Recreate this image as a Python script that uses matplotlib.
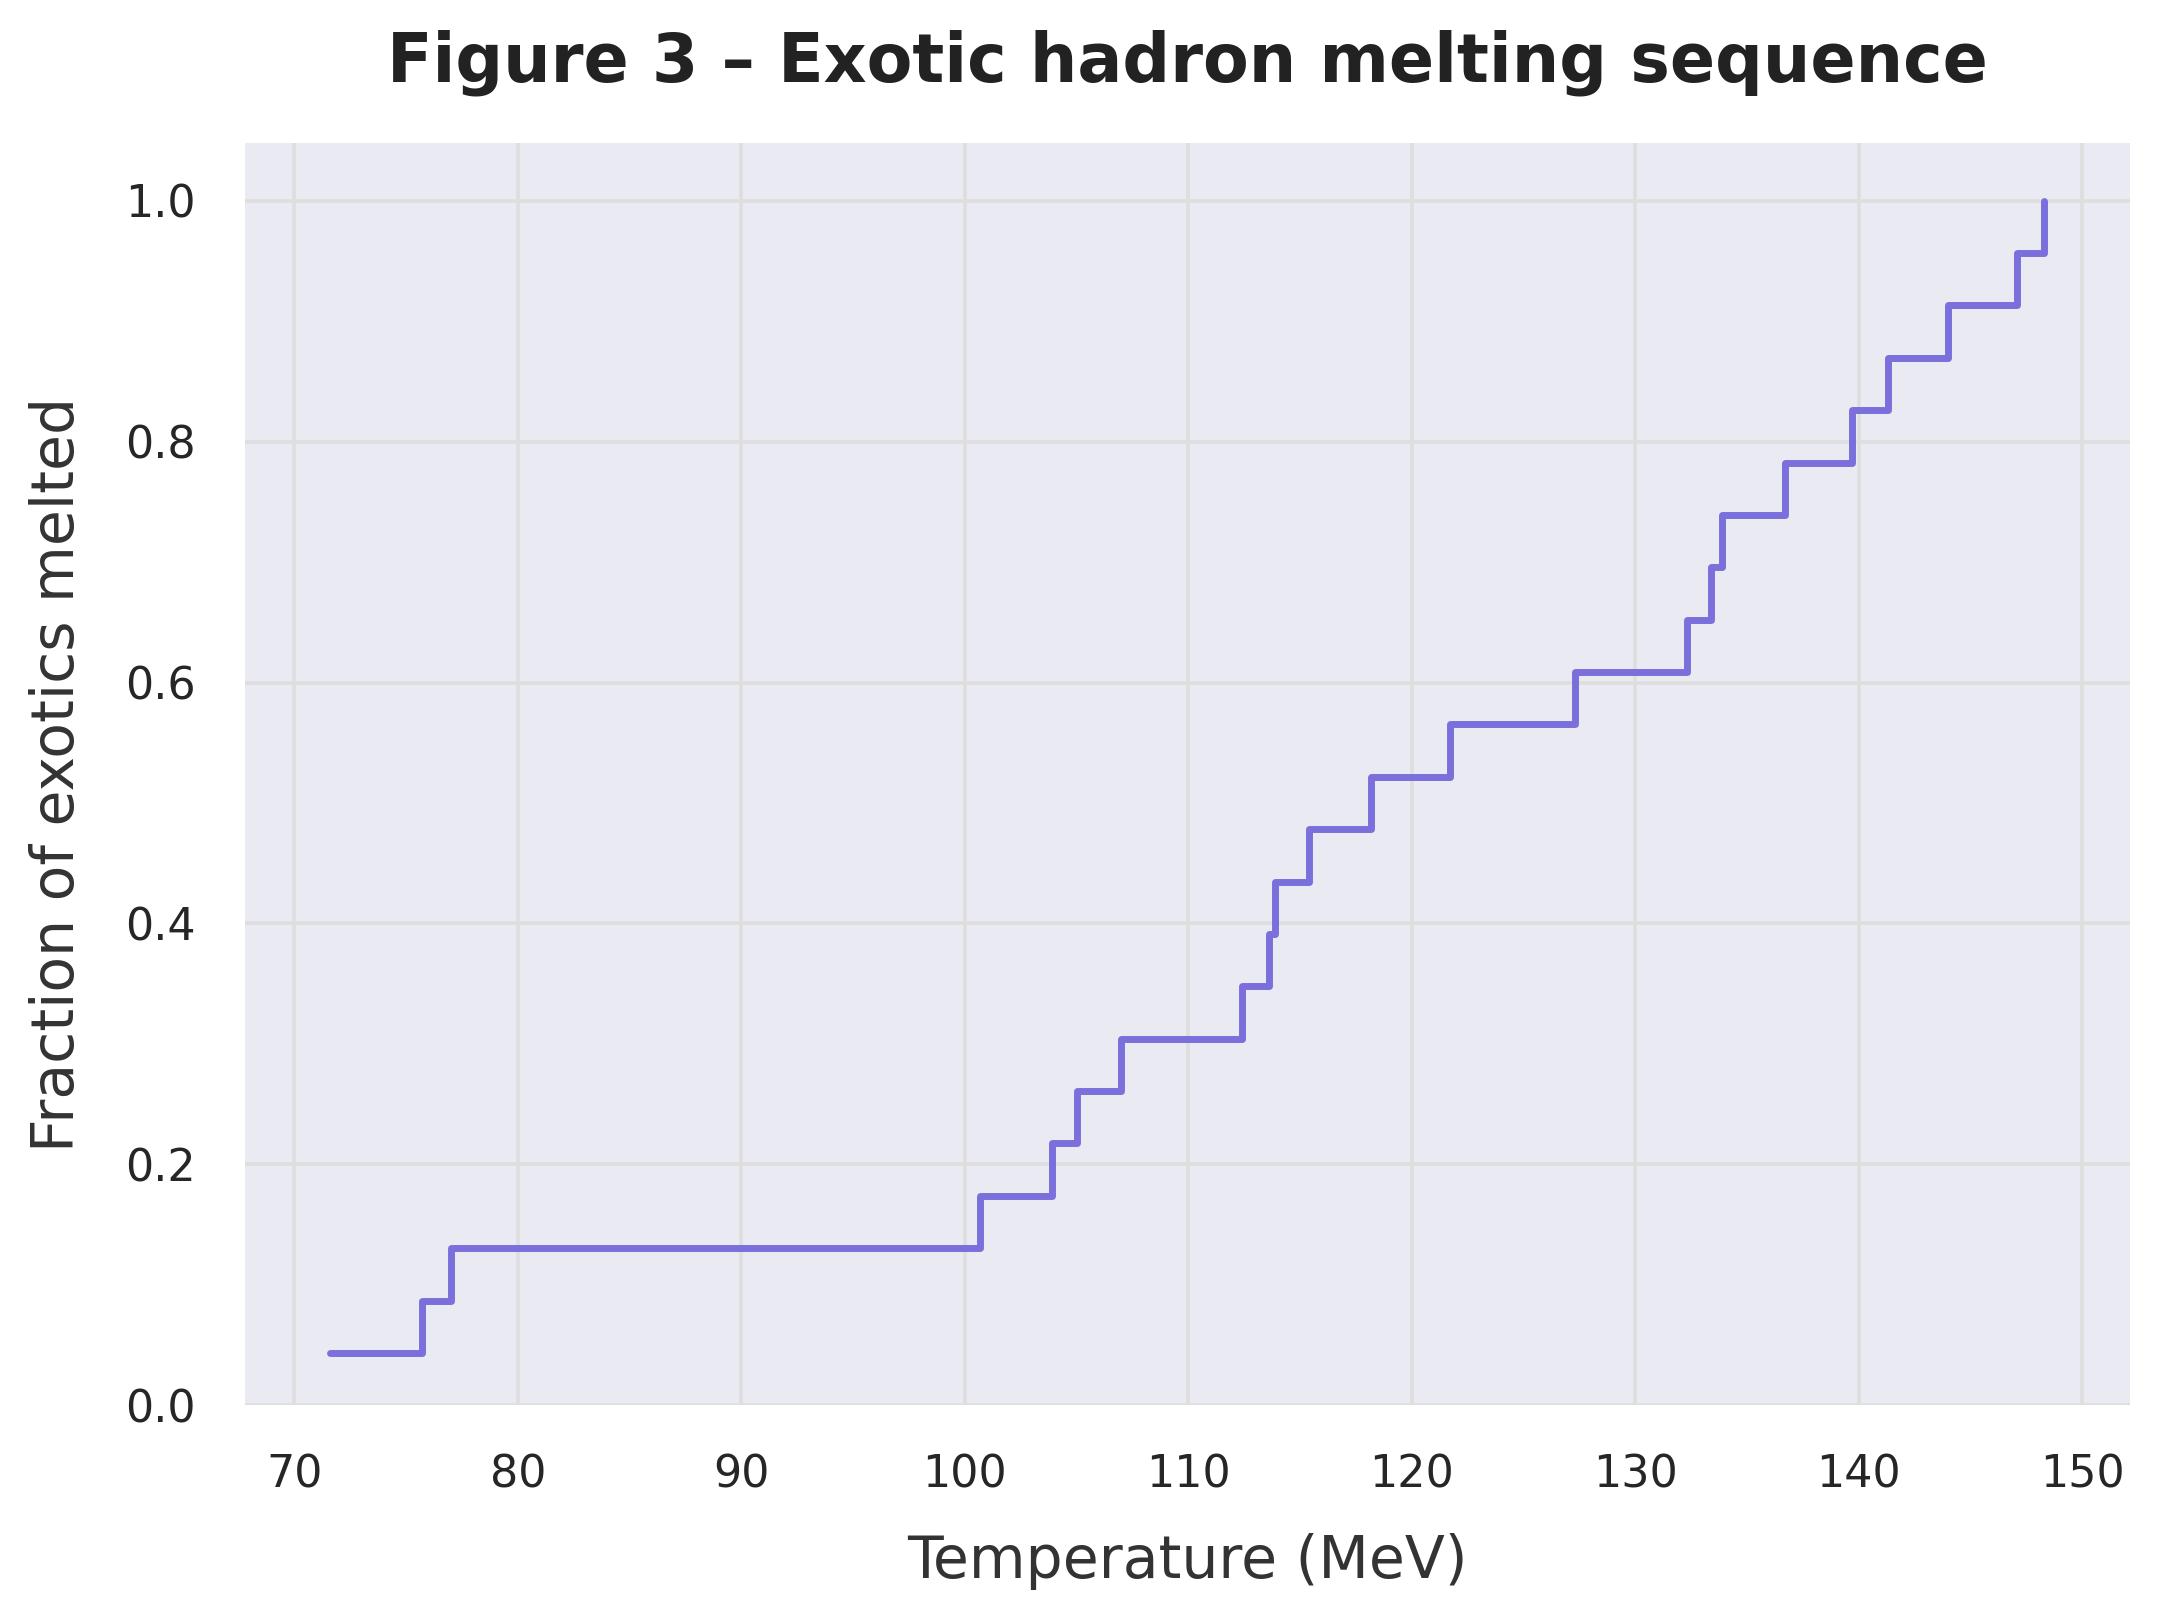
import matplotlib
matplotlib.use("Agg")
import matplotlib.pyplot as plt
import numpy as np
import seaborn as sns

# melting temperatures of the exotic states (MeV)
melt_temps = [71.6, 75.7, 77.0, 100.7, 103.9, 105.0, 107.0, 112.4, 113.6, 113.9,
              115.4, 118.2, 121.7, 127.3, 132.3, 133.4, 133.9, 136.7, 139.7, 141.3,
              144.0, 147.1, 148.3]
n_exotics = len(melt_temps)
fraction = [(i + 1) / n_exotics for i in range(n_exotics)]

title = "Figure 3 \u2013 Exotic hadron melting sequence"
xlabel = "Temperature (MeV)"
ylabel = "Fraction of exotics melted"


def main():
    sns.set_theme(style="darkgrid")
    plt.rcParams['font.family'] = ['DejaVu Sans']
    plt.rcParams['axes.facecolor'] = '#eaeaf2'

    fig, ax = plt.subplots(figsize=(10.8, 8.08))
    ax.step(np.array(melt_temps), np.array(fraction), where='post',
            color='#7b6fdc', linewidth=2.5)

    ax.set_ylim(bottom=0)
    ax.set_title(title, fontsize=24, fontweight='bold', color='#222222', pad=22)
    ax.set_xlabel(xlabel, fontsize=21, color='#333333', labelpad=13)
    ax.set_ylabel(ylabel, fontsize=21, color='#333333', labelpad=14)
    ax.tick_params(labelsize=16, colors='#262626', pad=11.5)
    ax.grid(True, color='#dedede', linewidth=1.3)
    for s in ax.spines.values():
        s.set_visible(False)

    fig.tight_layout(pad=0.9)
    fig.savefig("out.png", dpi=200)


if __name__ == "__main__":
    main()
